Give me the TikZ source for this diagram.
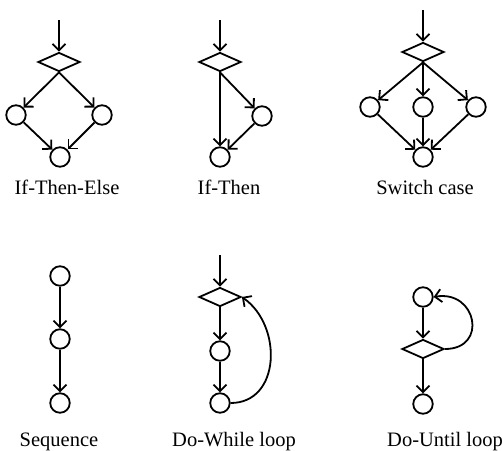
\documentclass[tikz,border=0pt]{standalone}
\usepackage{fontspec}
\setmainfont{Liberation Serif}
\usetikzlibrary{shapes.geometric,arrows.meta}

\begin{document}
\begin{tikzpicture}[x=1pt,y=-1pt,line width=1.8pt,
    >={Straight Barb[length=6.5pt,width=13pt]},
    vertex/.style={shape=circle,draw=black,minimum size=19.5pt,inner sep=0pt},
    decision/.style={shape=diamond,draw=black,minimum width=42pt,minimum height=19pt,inner sep=0pt},
    caption/.style={anchor=base,font=\fontsize{20.5}{24}\selectfont}]
  \useasboundingbox (0,0) rectangle (503,450);

  % If-Then-Else
  \coordinate (ite0) at (59,20);
  \node[decision] (ited) at (59,62) {};
  \node[vertex] (itel) at (16,115) {};
  \node[vertex] (iter) at (102,115) {};
  \node[vertex] (iteb) at (60,157) {};
  \node[caption] (itet) at (67,194) {If-Then-Else};
  \draw[->] (ite0) to (ited.north);
  \draw[->] (ited.south) to (itel);
  \draw[->] (ited.south) to (iter);
  \draw[->] (itel) to (iteb);
  \draw[->] (iter) to (iteb);

  % If-Then
  \coordinate (it0) at (220,20);
  \node[decision] (itd) at (220,62) {};
  \node[vertex] (itr) at (262,116) {};
  \node[vertex] (itb) at (220,157) {};
  \node[caption] (itt) at (229,194) {If-Then};
  \draw[->] (it0) to (itd.north);
  \draw[->] (itd.south) to (itb);
  \draw[->] (itd.south) to (itr);
  \draw[->] (itr) to (itb);

  % Switch case
  \coordinate (sw0) at (423,10);
  \node[decision] (swd) at (423,52) {};
  \node[vertex] (swl) at (370,107) {};
  \node[vertex] (swm) at (423,107) {};
  \node[vertex] (swr) at (476,107) {};
  \node[vertex] (swb) at (423,157) {};
  \node[caption] (swt) at (425,194) {Switch case};
  \draw[->] (sw0) to (swd.north);
  \draw[->] (swd.south) to (swl);
  \draw[->] (swd.south) to (swm);
  \draw[->] (swd.south) to (swr);
  \draw[->] (swl) to (swb);
  \draw[->] (swm) to (swb);
  \draw[->] (swr) to (swb);

  % Sequence
  \node[vertex] (sq1) at (60,276) {};
  \node[vertex] (sq2) at (60,339) {};
  \node[vertex] (sq3) at (60,403) {};
  \node[caption] (sqt) at (59,446) {Sequence};
  \draw[->] (sq1) to (sq2);
  \draw[->] (sq2) to (sq3);

  % Do-While loop
  \coordinate (dw0) at (220,255);
  \node[decision] (dwd) at (220,297) {};
  \node[vertex] (dw1) at (220,351) {};
  \node[vertex] (dw2) at (220,403) {};
  \node[caption] (dwt) at (234,446) {Do-While loop};
  \draw[->] (dw0) to (dwd.north);
  \draw[->] (dwd.south) to (dw1);
  \draw[->] (dw1) to (dw2);
  \draw[->] (dw2.east) to[out=0,in=-35,looseness=1.2] (dwd.east);

  % Do-Until loop
  \node[vertex] (du1) at (423,297) {};
  \node[decision] (dud) at (423,349) {};
  \node[vertex] (du2) at (423,404) {};
  \node[caption,anchor=base west] (dut) at (383,446) {Do-Until loop};
  \draw[->] (du1) to (dud.north);
  \draw[->] (dud.south) to (du2);
  \draw[->] (dud.east) to[out=0,in=10,looseness=2.1] (du1.east);
\end{tikzpicture}
\end{document}
